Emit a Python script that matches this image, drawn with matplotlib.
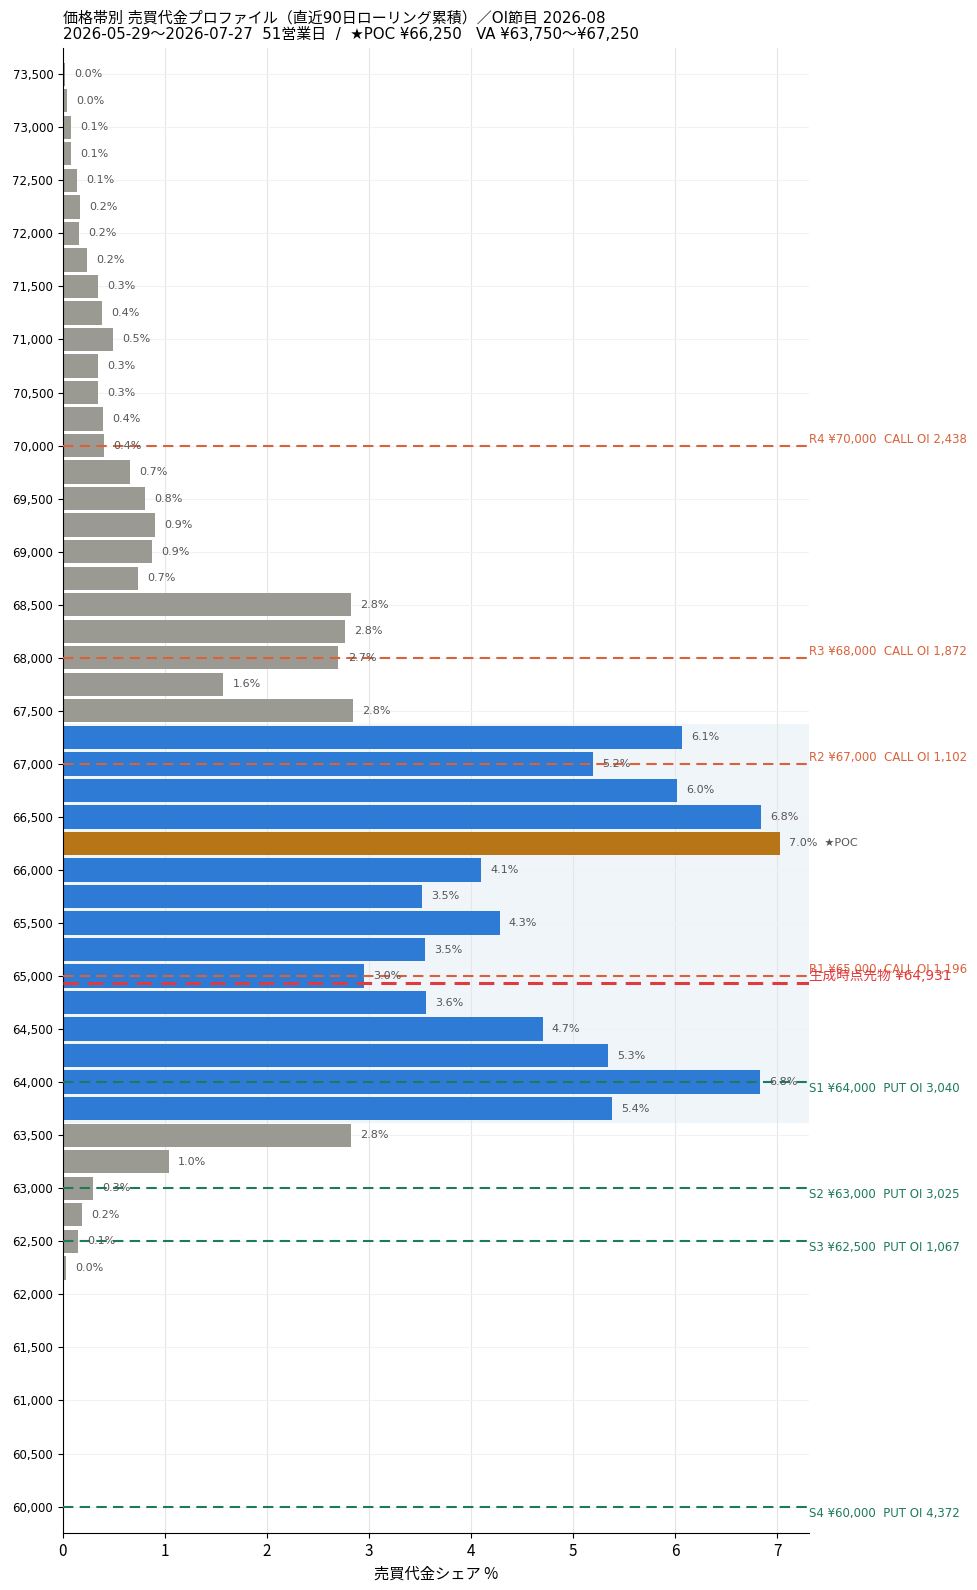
import numpy as np
import matplotlib
matplotlib.use("Agg")
import matplotlib.pyplot as plt
from matplotlib.ticker import FuncFormatter

plt.rcParams['font.family'] = ['DejaVu Sans', 'Noto Sans CJK JP']

# price bins (250 step) and turnover share %
prices = [73500, 73250, 73000, 72750, 72500, 72250, 72000, 71750, 71500, 71250,
          71000, 70750, 70500, 70250, 70000, 69750, 69500, 69250, 69000, 68750,
          68500, 68250, 68000, 67750, 67500, 67250, 67000, 66750, 66500, 66250,
          66000, 65750, 65500, 65250, 65000, 64750, 64500, 64250, 64000, 63750,
          63500, 63250, 63000, 62750, 62500, 62250]
shares = [0.02, 0.04, 0.08, 0.08, 0.14, 0.17, 0.16, 0.24, 0.34, 0.38,
          0.49, 0.34, 0.34, 0.39, 0.40, 0.66, 0.80, 0.90, 0.87, 0.74,
          2.82, 2.76, 2.70, 1.57, 2.84, 6.07, 5.19, 6.02, 6.84, 7.03,
          4.10, 3.52, 4.28, 3.55, 2.95, 3.56, 4.70, 5.34, 6.83, 5.38,
          2.82, 1.04, 0.29, 0.19, 0.15, 0.03]

poc = 66250
va_low, va_high = 63750, 67250
futures = 64931

# OI levels
res_prices = [70000, 68000, 67000, 65000]
res_names = ["R4", "R3", "R2", "R1"]
res_oi = [2438, 1872, 1102, 1196]
sup_prices = [64000, 63000, 62500, 60000]
sup_names = ["S1", "S2", "S3", "S4"]
sup_oi = [3040, 3025, 1067, 4372]

title = ("価格帯別 売買代金プロファイル（直近90日ローリング累積）／OI節目 2026-08\n"
         "2026-05-29〜2026-07-27  51営業日  /  ★POC ¥66,250   VA ¥63,750〜¥67,250")

GRAY = "#9b9a92"
BLUE = "#2e7bd6"
POCC = "#b87518"
RCOL = "#d9623b"
SCOL = "#1d7a5c"
FCOL = "#e0393e"
CJK = ['Noto Sans CJK JP', 'DejaVu Sans']

fig = plt.figure(figsize=(9.78, 15.9), dpi=100)
ax = fig.add_axes([0.0644, 0.0358, 0.7626, 0.9342])

step = 250
ax.axhspan(va_low - step / 2, va_high + step / 2, color="#f0f5fa", zorder=0)

colors = []
for p in prices:
    if p == poc:
        colors.append(POCC)
    elif va_low <= p <= va_high:
        colors.append(BLUE)
    else:
        colors.append(GRAY)
ax.barh(prices, shares, height=step * 0.88, color=colors, zorder=2)

for p, s in zip(prices, shares):
    txt = f"{s:.1f}%"
    if p == poc:
        txt += "  ★POC"
    ax.text(s + 0.09, p, txt, va="center", ha="left", fontsize=8,
            color="#555555", zorder=4)

for p, n, oi in zip(res_prices, res_names, res_oi):
    ax.axhline(p, color=RCOL, ls=(0, (5, 3)), lw=1.5, zorder=3)
    ax.text(1.0, p, f"{n} ¥{p:,}  CALL OI {oi:,}", transform=ax.get_yaxis_transform(),
            va="bottom", ha="left", fontsize=8.5, color=RCOL)
for p, n, oi in zip(sup_prices, sup_names, sup_oi):
    ax.axhline(p, color=SCOL, ls=(0, (5, 3)), lw=1.5, zorder=3)
    ax.text(1.0, p, f"{n} ¥{p:,}  PUT OI {oi:,}", transform=ax.get_yaxis_transform(),
            va="top", ha="left", fontsize=8.5, color=SCOL)

ax.axhline(futures, color=FCOL, ls=(0, (5, 3)), lw=2.2, zorder=3)
ax.text(1.0, futures, f"生成時点先物 ¥{futures:,}", transform=ax.get_yaxis_transform(),
        va="bottom", ha="left", fontsize=9.8, color=FCOL)

ax.set_ylim(59750, 73750)
ax.set_xlim(0, 7.31)
ax.set_yticks(np.arange(60000, 73501, 500))
ax.yaxis.set_major_formatter(FuncFormatter(lambda v, _: f"{int(v):,}"))
ax.tick_params(axis="y", labelsize=8.5)
ax.tick_params(axis="x", labelsize=11)
for lab in ax.get_xticklabels():
    lab.set_family(CJK)
ax.xaxis.grid(True, color="#e6e6e6", lw=0.8, zorder=0)
ax.yaxis.grid(True, color="#f2f2f2", lw=0.8, zorder=0)
ax.set_axisbelow(True)
for sp in ["top", "right"]:
    ax.spines[sp].set_visible(False)
ax.set_xlabel("売買代金シェア %", fontsize=11, family=CJK)

fig.text(0.0644, 0.9935, title, ha="left", va="top", fontsize=10.8, linespacing=1.15)

fig.savefig("out.png", dpi=100)
